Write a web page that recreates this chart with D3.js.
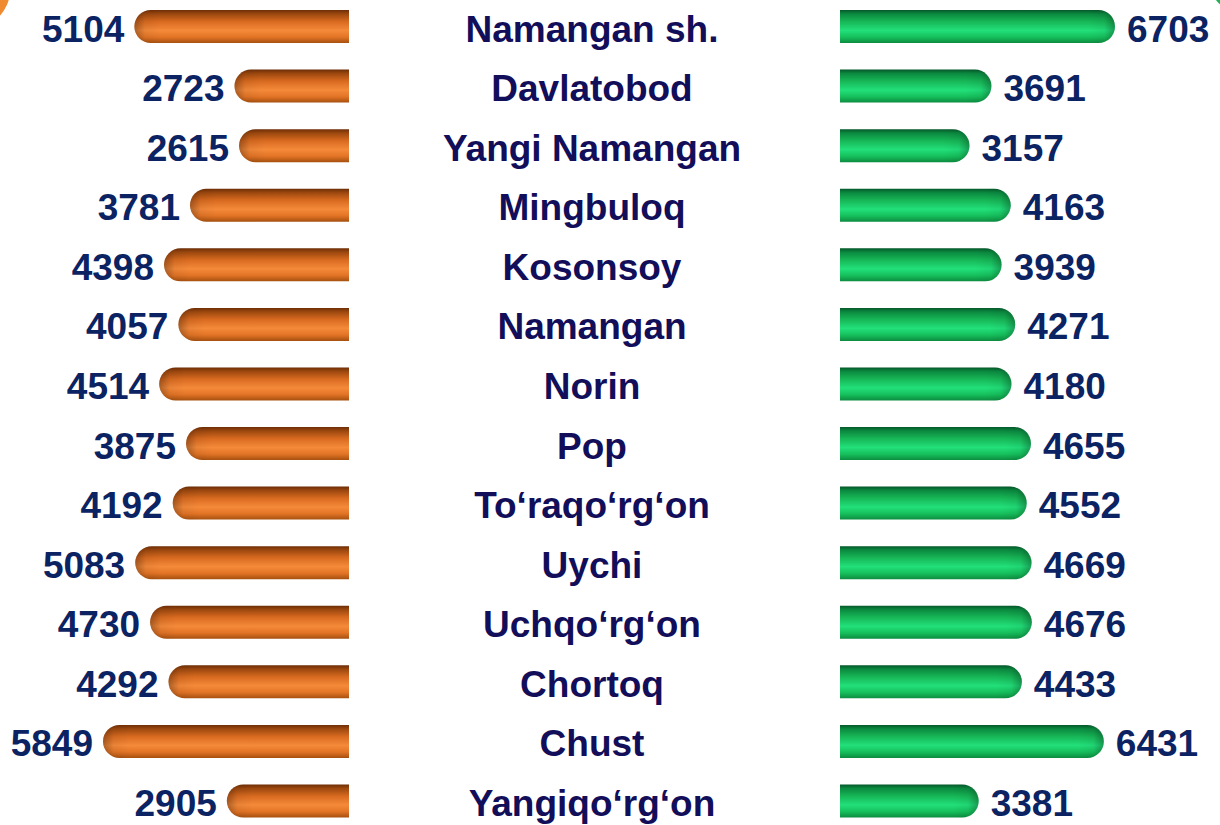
<!DOCTYPE html>
<html>
<head>
<meta charset="utf-8">
<script src="https://cdn.jsdelivr.net/npm/d3@7"></script>
<style>
    html, body { margin: 0; padding: 0; background: #ffffff; }
    svg { display: block; }
    text { font-family: "Liberation Sans", Arial, sans-serif; font-weight: bold; }
</style>
</head>
<body>
<svg id="chart" width="1220" height="825"></svg>
<script>
// districts, top to bottom
var districts = ["Namangan sh.", "Davlatobod", "Yangi Namangan", "Mingbuloq", "Kosonsoy",
    "Namangan", "Norin", "Pop", "To\u2018raqo\u2018rg\u2018on", "Uychi", "Uchqo\u2018rg\u2018on",
    "Chortoq", "Chust", "Yangiqo\u2018rg\u2018on"];
// left (orange) series
var leftValues = [5104, 2723, 2615, 3781, 4398, 4057, 4514, 3875, 4192, 5083, 4730, 4292, 5849, 2905];
// right (green) series
var rightValues = [6703, 3691, 3157, 4163, 3939, 4271, 4180, 4655, 4552, 4669, 4676, 4433, 6431, 3381];

var width = 1220, height = 825;
var barH = 33;
var leftEdge = 349, rightEdge = 840;

var svg = d3.select("#chart");

var y = d3.scalePoint()
    .domain(districts)
    .range([26.5, 801]);

var xLeft = d3.scaleLinear().domain([0, 5849]).range([0, 246]);
var xRight = d3.scaleLinear().domain([0, 6703]).range([0, 275]);

var defs = svg.append("defs");

function makeGrad(id, stops) {
    let g = defs.append("linearGradient")
        .attr("id", id)
        .attr("x1", 0).attr("y1", 0)
        .attr("x2", 0).attr("y2", 1);
    stops.forEach(s => {
        g.append("stop").attr("offset", s[0]).attr("stop-color", s[1]);
    });
}

makeGrad("orangeGrad", [
    [0, "#6e2e06"], [0.12, "#9c480f"], [0.35, "#d86a20"], [0.62, "#f58a3a"],
    [0.82, "#e27426"], [1, "#a6500f"]
]);
makeGrad("greenGrad", [
    [0, "#05582a"], [0.12, "#0b8a40"], [0.35, "#17b656"], [0.62, "#22e07a"],
    [0.82, "#16c05c"], [1, "#0c8c40"]
]);

// shading for the rounded caps
function makeCapGrad(id, dir) {
    let g = defs.append("linearGradient")
        .attr("id", id)
        .attr("x1", dir > 0 ? 0 : 1).attr("y1", 0)
        .attr("x2", dir > 0 ? 1 : 0).attr("y2", 0);
    g.append("stop").attr("offset", 0).attr("stop-color", "#000").attr("stop-opacity", 0);
    g.append("stop").attr("offset", 0.6).attr("stop-color", "#000").attr("stop-opacity", 0.05);
    g.append("stop").attr("offset", 1).attr("stop-color", "#000").attr("stop-opacity", 0.3);
}
makeCapGrad("capLeft", -1);
makeCapGrad("capRight", 1);

// left bar: rounded on the outer (left) side
function leftPath(w, cy) {
    let r = barH / 2, top = cy - r, bot = cy + r, x0 = leftEdge - w;
    return "M" + leftEdge + "," + top + " H" + (x0 + r) +
        " A" + r + "," + r + " 0 0 0 " + (x0 + r) + "," + bot +
        " H" + leftEdge + " Z";
}
function rightPath(w, cy) {
    let r = barH / 2, top = cy - r, bot = cy + r, x1 = rightEdge + w;
    return "M" + rightEdge + "," + top + " H" + (x1 - r) +
        " A" + r + "," + r + " 0 0 1 " + (x1 - r) + "," + bot +
        " H" + rightEdge + " Z";
}
function leftCap(w, cy) {
    let r = barH / 2, x0 = leftEdge - w;
    return "M" + (x0 + r * 1.6) + "," + (cy - r) + " H" + (x0 + r) +
        " A" + r + "," + r + " 0 0 0 " + (x0 + r) + "," + (cy + r) +
        " H" + (x0 + r * 1.6) + " Z";
}
function rightCap(w, cy) {
    let r = barH / 2, x1 = rightEdge + w;
    return "M" + (x1 - r * 1.6) + "," + (cy - r) + " H" + (x1 - r) +
        " A" + r + "," + r + " 0 0 1 " + (x1 - r) + "," + (cy + r) +
        " H" + (x1 - r * 1.6) + " Z";
}

// corner decorations
svg.append("circle")
    .attr("cx", -28).attr("cy", -10).attr("r", 38)
    .attr("fill", "#f08a30");
svg.append("circle")
    .attr("cx", 1240).attr("cy", -18).attr("r", 30)
    .attr("fill", "#1cb455");

var rows = districts.map((d, i) => ({ name: d, left: leftValues[i], right: rightValues[i] }));

var leftG = svg.append("g").attr("class", "left");
leftG.selectAll("path.bar")
    .data(rows)
    .enter().append("path")
    .attr("class", "bar")
    .attr("d", d => leftPath(xLeft(d.left), y(d.name)))
    .attr("fill", "url(#orangeGrad)");
leftG.selectAll("path.cap")
    .data(rows)
    .enter().append("path")
    .attr("class", "cap")
    .attr("d", d => leftCap(xLeft(d.left), y(d.name)))
    .attr("fill", "url(#capLeft)");
leftG.selectAll("text")
    .data(rows)
    .enter().append("text")
    .attr("x", d => leftEdge - xLeft(d.left) - 10)
    .attr("y", d => y(d.name) + 15)
    .attr("text-anchor", "end")
    .attr("font-size", 37)
    .attr("fill", "#0b2362")
    .text(d => d.left);

var rightG = svg.append("g").attr("class", "right");
rightG.selectAll("path.bar")
    .data(rows)
    .enter().append("path")
    .attr("class", "bar")
    .attr("d", d => rightPath(xRight(d.right), y(d.name)))
    .attr("fill", "url(#greenGrad)");
rightG.selectAll("path.cap")
    .data(rows)
    .enter().append("path")
    .attr("class", "cap")
    .attr("d", d => rightCap(xRight(d.right), y(d.name)))
    .attr("fill", "url(#capRight)");
rightG.selectAll("text")
    .data(rows)
    .enter().append("text")
    .attr("x", d => rightEdge + xRight(d.right) + 12)
    .attr("y", d => y(d.name) + 15)
    .attr("text-anchor", "start")
    .attr("font-size", 37)
    .attr("fill", "#0b2362")
    .text(d => d.right);

// district names in the middle
svg.append("g").attr("class", "names")
    .selectAll("text")
    .data(rows)
    .enter().append("text")
    .attr("x", 592)
    .attr("y", d => y(d.name) + 15)
    .attr("text-anchor", "middle")
    .attr("font-size", 37)
    .attr("fill", "#120e5a")
    .text(d => d.name);
</script>
</body>
</html>
